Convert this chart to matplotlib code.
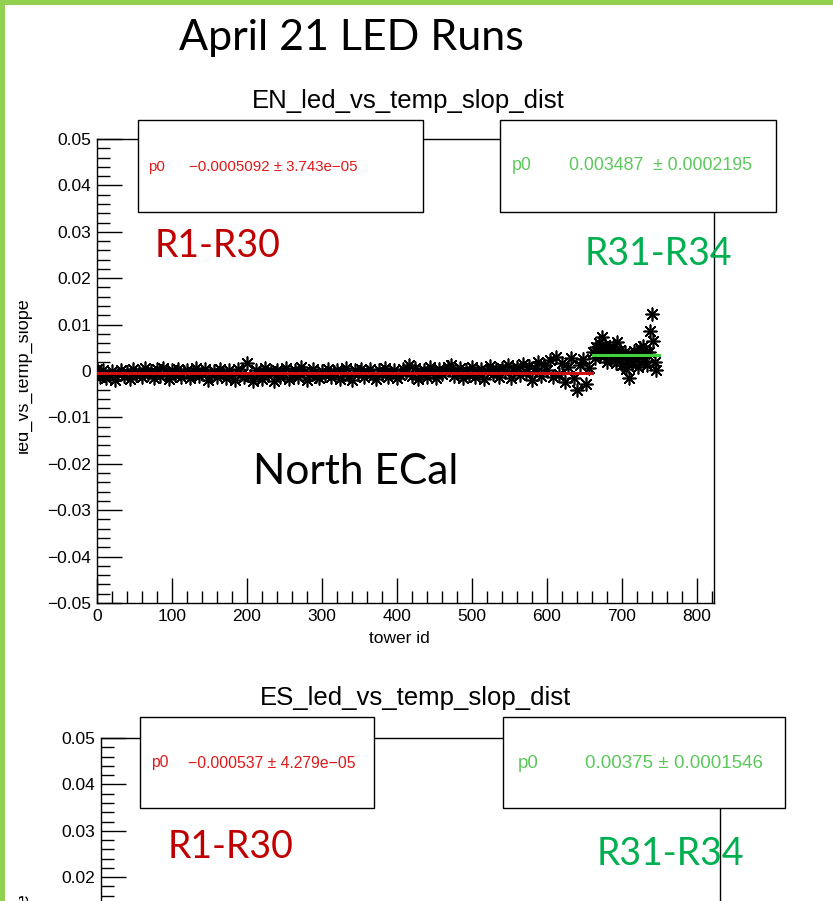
import matplotlib
matplotlib.use("Agg")
import matplotlib.pyplot as plt
from matplotlib.patches import Rectangle
from matplotlib.ticker import MultipleLocator, FuncFormatter

W, H = 833, 901
SANS = ["Liberation Sans", "DejaVu Sans"]
SLIDE = ["Lato", "DejaVu Sans"]

# ---------------- data ----------------
slide_title = "April 21 LED Runs"
top_title = "EN_led_vs_temp_slop_dist"
bot_title = "ES_led_vs_temp_slop_dist"
ylabel = "led_vs_temp_slope"
xlabel = "tower id"
x_ticks = [0, 100, 200, 300, 400, 500, 600, 700, 800]
y_ticks = [-0.05, -0.04, -0.03, -0.02, -0.01, 0, 0.01, 0.02, 0.03, 0.04, 0.05]

# North ECal, runs R1-R30 region (tower ids 0..656)
north_ids_a = list(range(0, 657, 4))
north_vals_a = [
    0.0004, -0.0012, 0.0002, -0.0016, -0.0008, 0.0001, -0.0019, -0.0006, 0.0003, -0.0011, -0.0003, -0.0017, 0.0005, -0.0009, -0.0002,
    -0.0014, 0.0006, -0.0007, -0.0001, -0.0015, 0.0004, -0.0010, 0.0007, -0.0004, -0.0018, 0.0002, -0.0008, 0.0005, -0.0013, -0.0003,
    0.0003, -0.0016, -0.0006, 0.0006, -0.0011, -0.0002, 0.0004, -0.0019, -0.0007, 0.0001, -0.0012, 0.0005, -0.0004, -0.0015, 0.0002,
    -0.0009, -0.0020, 0.0004, -0.0006, -0.0013, 0.0017, -0.0010, -0.0022, 0.0003, -0.0005, -0.0017, 0.0007, -0.0008, -0.0001, -0.0021,
    0.0002, -0.0012, -0.0004, 0.0006, -0.0018, -0.0007, 0.0003, -0.0014, 0.0008, -0.0002, -0.0020, -0.0006, 0.0004, -0.0011, -0.0016,
    0.0001, -0.0008, 0.0005, -0.0013, -0.0003, 0.0003, -0.0017, -0.0005, 0.0006, -0.0010, -0.0019, 0.0002, -0.0007, 0.0004, -0.0014,
    -0.0002, 0.0005, -0.0011, -0.0018, 0.0003, -0.0006, 0.0007, -0.0013, -0.0004, 0.0002, -0.0016, -0.0008, 0.0004, -0.0003, 0.0014,
    -0.0010, 0.0006, -0.0017, -0.0005, 0.0003, -0.0012, 0.0008, -0.0002, -0.0015, 0.0004, -0.0007, 0.0001, 0.0009, 0.0013, -0.0011,
    -0.0004, 0.0006, -0.0016, 0.0002, -0.0009, 0.0008, -0.0013, -0.0003, 0.0005, -0.0018, 0.0001, 0.0010, -0.0007, 0.0004, -0.0012,
    0.0007, -0.0002, 0.0012, -0.0015, 0.0003, 0.0009, -0.0008, 0.0016, -0.0003, 0.0011, -0.0019, 0.0006, 0.0020, -0.0010, 0.0014,
    0.0002, 0.0024, -0.0012, 0.0031, -0.0006, 0.0018, -0.0024, 0.0009, 0.0027, -0.0016, -0.0040, 0.0012, 0.0025, -0.0027, 0.0006,
]
# North ECal, runs R31-R34 region (tower ids 662..746)
north_ids_b = list(range(662, 747, 2))
north_vals_b = [
    0.0042, 0.0028, 0.0051, 0.0036, 0.0060, 0.0045, 0.0073, 0.0032, 0.0055, 0.0020,
    0.0047, 0.0038, 0.0026, 0.0052, 0.0041, 0.0018, 0.0062, 0.0035, 0.0046, 0.0012,
    0.0029, 0.0040, 0.0005, 0.0024, -0.0016, 0.0033, 0.0015, 0.0044, 0.0027, 0.0038,
    0.0009, 0.0049, 0.0031, 0.0053, 0.0021, 0.0042, 0.0014, 0.0040, 0.0086, 0.0122,
    0.0064, 0.0019, 0.0003,
]

# fit results (p0) and fit ranges
north_fit_a = (-0.0005092, 3.743e-05, 0, 660)
north_fit_b = (0.003487, 0.0002195, 661, 750)
south_fit_a = (-0.000537, 4.279e-05, 0, 660)
south_fit_b = (0.00375, 0.0001546, 661, 750)

stat_texts = {
    "na": "\u22120.0005092 \u00b1 3.743e\u221205",
    "nb": "0.003487  \u00b1 0.0002195",
    "sa": "\u22120.000537 \u00b1 4.279e\u221205",
    "sb": "0.00375 \u00b1 0.0001546",
}

RED_TXT = "#e01818"
GRN_TXT = "#5cc85c"
RED_LINE = "#d01010"
GRN_LINE = "#40d040"
RED_LBL = "#c00000"
GRN_LBL = "#00b050"
BORDER = "#92d050"

fig = plt.figure(figsize=(W / 100, H / 100), dpi=100)
fig.patch.set_facecolor("white")


def fx(px):
    return px / W


def fy(py):
    return 1 - py / H


def make_axes(left, top, right, bottom, visible_ylabels=None, show_xlabels=True):
    ax = fig.add_axes([fx(left), fy(bottom), (right - left) / W, (bottom - top) / H])
    ax.set_xlim(0, 822.7)
    ax.set_ylim(-0.05, 0.05)
    ax.set_xticks(x_ticks)
    ax.set_yticks(y_ticks)
    ax.xaxis.set_minor_locator(MultipleLocator(20))
    ax.yaxis.set_minor_locator(MultipleLocator(0.002))

    def yfmt(v, pos):
        if visible_ylabels is not None and v < visible_ylabels - 1e-9:
            return ""
        if abs(v) < 1e-9:
            return "0"
        return ("%.2f" % v).replace("-", "\u2212")

    ax.yaxis.set_major_formatter(FuncFormatter(yfmt))
    ax.tick_params(which="both", direction="in", top=False, right=False, colors="black",
                   labelbottom=show_xlabels)
    ax.tick_params(which="major", length=18, width=1, labelsize=12.5, pad=4)
    ax.tick_params(which="minor", length=9, width=1)
    for lab in ax.get_xticklabels() + ax.get_yticklabels():
        lab.set_family(SANS)
    for s in ax.spines.values():
        s.set_linewidth(1.0)
        s.set_color("black")
    return ax


# ---------------- top (North) ----------------
ax1 = make_axes(97, 139, 714, 603)
ax1.scatter(north_ids_a, north_vals_a, marker=(8, 2, 0), s=85, color="black", linewidths=1.2, zorder=3)
ax1.scatter(north_ids_b, north_vals_b, marker=(8, 2, 0), s=85, color="black", linewidths=1.2, zorder=3)
ax1.plot([north_fit_a[2], north_fit_a[3]], [north_fit_a[0]] * 2, color=RED_LINE, lw=2.2, zorder=4)
ax1.plot([north_fit_b[2], north_fit_b[3]], [north_fit_b[0]] * 2, color=GRN_LINE, lw=2.2, zorder=4)
ax1.set_xlabel(xlabel, family=SANS, fontsize=12.5)
ax1.xaxis.set_label_coords(0.49, -0.06)

# ---------------- bottom (South) ----------------
ax2 = make_axes(101, 738, 720, 1202, visible_ylabels=0.02, show_xlabels=False)
ax2.plot([south_fit_a[2], south_fit_a[3]], [south_fit_a[0]] * 2, color=RED_LINE, lw=2.2, zorder=4)
ax2.plot([south_fit_b[2], south_fit_b[3]], [south_fit_b[0]] * 2, color=GRN_LINE, lw=2.2, zorder=4)

# titles
fig.text(fx(408), fy(101), top_title, family=SANS, fontsize=18.5, ha="center", va="center")
fig.text(fx(415), fy(698), bot_title, family=SANS, fontsize=18.5, ha="center", va="center")
fig.text(fx(351), fy(38), slide_title, family=SLIDE, fontsize=31, ha="center", va="center")

# y labels (partially clipped at the left edge, as in the reference)
fig.text(fx(23), fy(375), ylabel, family=SANS, fontsize=13, rotation=90, ha="center", va="center")
fig.text(fx(23), fy(970), ylabel, family=SANS, fontsize=13, rotation=90, ha="center", va="center")


# stats boxes
def stat_box(x0, y0, x1, y1, p0x, valx, ty, txt, col, fs):
    r = Rectangle((fx(x0), fy(y1)), (x1 - x0) / W, (y1 - y0) / H, transform=fig.transFigure,
                  facecolor="white", edgecolor="black", lw=1.0, zorder=10)
    fig.patches.append(r)
    fig.text(fx(p0x), fy(ty), "p0", family=SANS, fontsize=fs, color=col, ha="left", va="center", zorder=11)
    fig.text(fx(valx), fy(ty), txt, family=SANS, fontsize=fs, color=col, ha="left", va="center", zorder=11)


stat_box(138, 120, 423, 212, 148, 189, 167, stat_texts["na"], RED_TXT, 10.8)
stat_box(500, 120, 776, 212, 512, 569, 166, stat_texts["nb"], GRN_TXT, 12.8)
stat_box(140, 717, 374, 808, 151, 188, 763, stat_texts["sa"], RED_TXT, 11.3)
stat_box(503, 717, 785, 808, 518, 585, 764, stat_texts["sb"], GRN_TXT, 13.5)

# slide annotations
fig.text(fx(218), fy(246), "R1-R30", family=SLIDE, fontsize=27, color=RED_LBL, ha="center", va="center", zorder=12)
fig.text(fx(658), fy(254), "R31-R34", family=SLIDE, fontsize=27, color=GRN_LBL, ha="center", va="center", zorder=12)
fig.text(fx(356), fy(472), "North ECal", family=SLIDE, fontsize=30.5, color="black", ha="center", va="center", zorder=12)
fig.text(fx(231), fy(847), "R1-R30", family=SLIDE, fontsize=27, color=RED_LBL, ha="center", va="center", zorder=12)
fig.text(fx(670), fy(854), "R31-R34", family=SLIDE, fontsize=27, color=GRN_LBL, ha="center", va="center", zorder=12)

# clip strip at left edge and slide border
fig.patches.append(Rectangle((0, 0), fx(19), 1, transform=fig.transFigure, facecolor="white",
                             edgecolor="none", zorder=20))
fig.patches.append(Rectangle((0, 0), fx(5), 1, transform=fig.transFigure, facecolor=BORDER,
                             edgecolor="none", zorder=21))
fig.patches.append(Rectangle((0, fy(5)), 1, 5 / H, transform=fig.transFigure, facecolor=BORDER,
                             edgecolor="none", zorder=21))

fig.savefig("out.png", dpi=100)
